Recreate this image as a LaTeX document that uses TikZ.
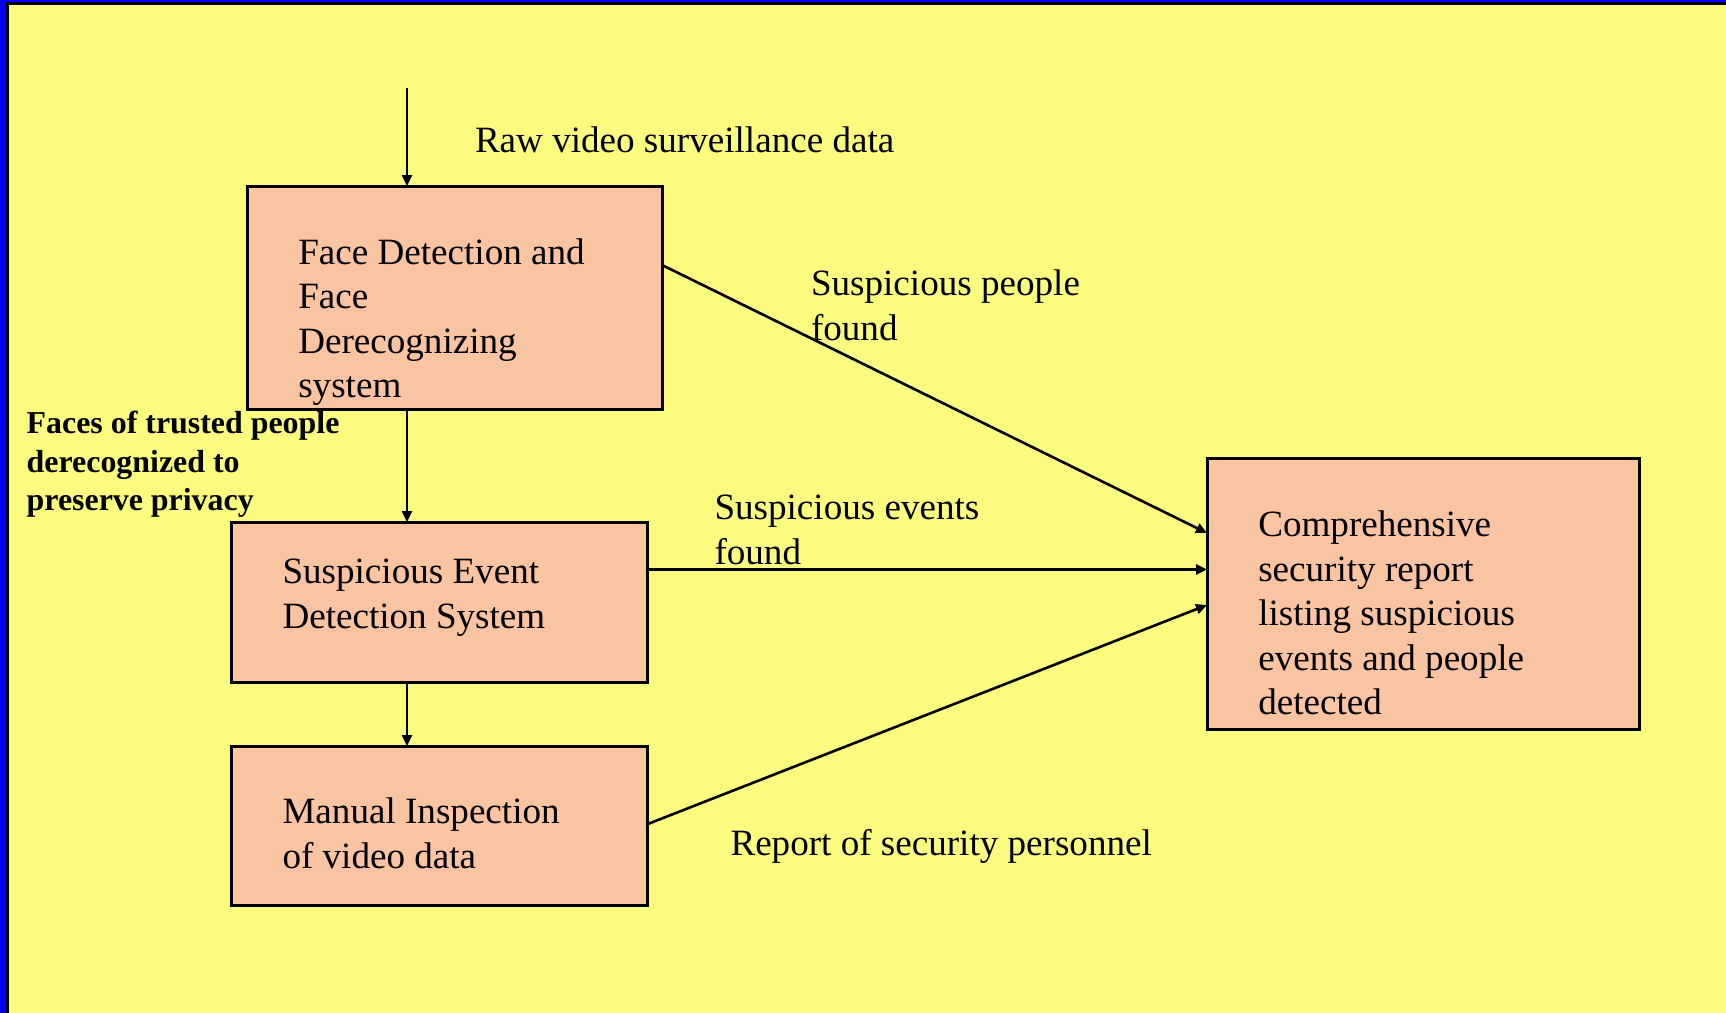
\documentclass[tikz,border=0pt]{standalone}
\usepackage{fontspec}
\setmainfont{Liberation Serif}
\usetikzlibrary{arrows.meta}
\definecolor{bgyellow}{RGB}{251,251,128}
\definecolor{boxfill}{RGB}{248,196,162}
\definecolor{frameblue}{RGB}{0,0,250}
\tikzset{
  box/.style={draw=black, line width=1.5pt, fill=boxfill, rectangle, inner sep=0pt, outer sep=0pt},
  arr/.style={draw=black, line width=1.3pt, -{Triangle[length=5.5pt,width=5pt]}},
  txt/.style={anchor=base west, inner sep=0pt, outer sep=0pt, align=left,
    font=\fontsize{18.55pt}{22.25pt}\selectfont},
  boldtxt/.style={anchor=base west, inner sep=0pt, outer sep=0pt, align=left,
    font=\fontsize{15.95pt}{19.15pt}\selectfont\bfseries}
}
\begin{document}
\begin{tikzpicture}[x=0.5pt,y=-0.5pt]
\useasboundingbox (0,0) rectangle (1726,1013);
% frame
\fill[frameblue] (0,0) rectangle (1726,1013);
\fill[black] (6,2) rectangle (1726,1013);
\fill[bgyellow] (9,5) rectangle (1726,1013);

% boxes
\node[box, minimum width=207.5pt, minimum height=111.5pt] (b1) at (454.5,297.5) {};
\node[box, minimum width=208pt, minimum height=80pt] (b2) at (439,602) {};
\node[box, minimum width=208pt, minimum height=79.5pt] (b3) at (439,825.5) {};
\node[box, minimum width=216pt, minimum height=135.5pt] (b4) at (1423,593.5) {};

% texts (anchored at the baseline of their last line)
\node[txt] (raw) at (475,152.5) {Raw video surveillance data};
\node[txt] (t1) at (298.3,397.5) {Face Detection and\\Face\\Derecognizing\\system};
\node[txt] (people) at (811,340) {Suspicious people\\found};
\node[boldtxt] (trusted) at (26.7,510.5) {Faces of trusted people\\derecognized to\\preserve privacy};
\node[txt] (events) at (714.5,564) {Suspicious events\\found};
\node[txt] (t2) at (282.5,628) {Suspicious Event\\Detection System};
\node[txt] (t3) at (282.5,868) {Manual Inspection\\of video data};
\node[txt] (report) at (730.5,855.5) {Report of security personnel};
\node[txt] (t4) at (1258.3,714.5) {Comprehensive\\security report\\listing suspicious\\events and people\\detected};

% connectors
\coordinate (top) at (407,88);
\draw[arr] (top) -- (top |- b1.north);
\draw[arr] (b1.south -| top) -- (b2.north -| top);
\draw[arr] (b2.south -| top) -- (b3.north -| top);
\draw[arr] (b1.east |- 0,265) -- (b4.west |- 0,533);
\draw[arr] (b2.east |- 0,569.5) -- (b4.west |- 0,569.5);
\draw[arr] (b3.east |- 0,824.3) -- (b4.west |- 0,605);
\end{tikzpicture}
\end{document}
